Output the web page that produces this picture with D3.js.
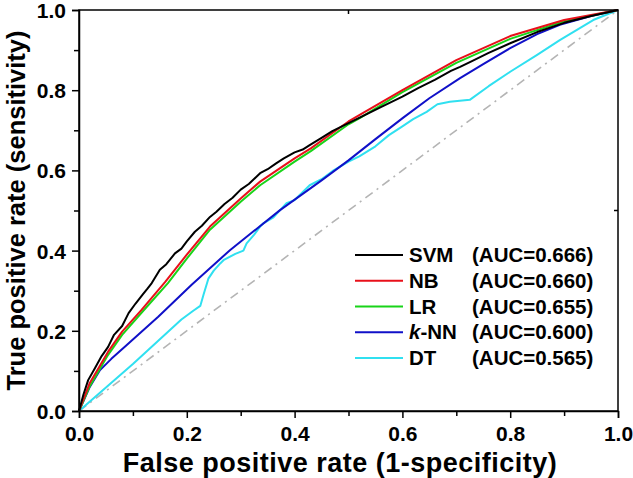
<!DOCTYPE html>
<html><head><meta charset="utf-8">
<script src="https://cdn.jsdelivr.net/npm/d3@7"></script>
<style>body{margin:0;background:#fff}svg{display:block}text{font-family:"Liberation Sans",Arial,sans-serif;font-weight:bold}</style>
</head><body>
<script>
const seriesNames = ["SVM","NB","LR","k-NN","DT"];
const aucLabels = ["(AUC=0.666)","(AUC=0.660)","(AUC=0.655)","(AUC=0.600)","(AUC=0.565)"];
const seriesColors = ["#000000","#e8101a","#19d419","#1010c8","#30e0f0"];
const xTicks = [0,0.2,0.4,0.6,0.8,1.0];
const yTicks = [0,0.2,0.4,0.6,0.8,1.0];
const svm = [[0,0],[0.008,0.04],[0.017,0.077],[0.03,0.108],[0.042,0.137],[0.054,0.16],[0.065,0.19],[0.08,0.212],[0.092,0.244],[0.105,0.268],[0.118,0.29],[0.127,0.305],[0.135,0.319],[0.15,0.352],[0.162,0.366],[0.178,0.393],[0.19,0.405],[0.2,0.423],[0.215,0.447],[0.228,0.462],[0.243,0.484],[0.255,0.497],[0.27,0.516],[0.285,0.532],[0.3,0.552],[0.315,0.566],[0.336,0.593],[0.35,0.603],[0.365,0.617],[0.38,0.63],[0.4,0.645],[0.415,0.652],[0.428,0.663],[0.45,0.681],[0.47,0.698],[0.5,0.718],[0.53,0.738],[0.56,0.758],[0.6,0.784],[0.63,0.806],[0.66,0.826],[0.69,0.848],[0.707,0.858],[0.73,0.873],[0.76,0.893],[0.8,0.917],[0.85,0.945],[0.9,0.968],[0.95,0.985],[1,1]];
const nb = [[0,0],[0.02,0.07],[0.054,0.148],[0.08,0.198],[0.116,0.252],[0.16,0.322],[0.2,0.39],[0.243,0.46],[0.3,0.53],[0.336,0.572],[0.4,0.63],[0.43,0.655],[0.5,0.722],[0.52,0.738],[0.6,0.8],[0.7,0.875],[0.8,0.935],[0.9,0.975],[1,1]];
const lr = [[0,0],[0.02,0.062],[0.054,0.14],[0.08,0.19],[0.116,0.245],[0.165,0.319],[0.2,0.38],[0.243,0.452],[0.3,0.522],[0.336,0.563],[0.4,0.622],[0.43,0.648],[0.5,0.715],[0.52,0.73],[0.6,0.795],[0.7,0.868],[0.8,0.928],[0.9,0.972],[1,1]];
const knn = [[0,0],[0.02,0.06],[0.039,0.102],[0.06,0.13],[0.085,0.16],[0.147,0.235],[0.209,0.315],[0.28,0.401],[0.373,0.501],[0.45,0.575],[0.5,0.625],[0.55,0.678],[0.601,0.731],[0.65,0.78],[0.707,0.83],[0.75,0.865],[0.8,0.905],[0.85,0.94],[0.892,0.963],[0.95,0.985],[1,1]];
const dt = [[0,0],[0.1,0.117],[0.19,0.228],[0.212,0.25],[0.225,0.262],[0.231,0.29],[0.24,0.33],[0.25,0.35],[0.262,0.368],[0.268,0.376],[0.29,0.392],[0.305,0.40],[0.311,0.418],[0.325,0.44],[0.336,0.46],[0.342,0.468],[0.36,0.482],[0.373,0.501],[0.385,0.518],[0.40,0.526],[0.428,0.563],[0.45,0.578],[0.47,0.598],[0.5,0.622],[0.52,0.635],[0.55,0.66],[0.575,0.688],[0.6,0.71],[0.62,0.728],[0.645,0.746],[0.665,0.765],[0.688,0.771],[0.725,0.776],[0.76,0.81],[0.8,0.846],[0.85,0.888],[0.892,0.925],[0.954,0.975],[1,1]];
const diag = [[0,0],[1,1]];
const allSeries = [svm, nb, lr, knn, dt];

const W = 633, H = 478;
const m = {l:79, r:15, t:10, b:67};
const svg = d3.select("body").append("svg").attr("width",W).attr("height",H);
const x = d3.scaleLinear().domain([0,1]).range([m.l, W-m.r]);
const y = d3.scaleLinear().domain([0,1]).range([H-m.b, m.t]);
const fs = 21, lfs = 20.5;

const line = d3.line().x(d=>x(d[0])).y(d=>y(d[1]));
svg.append("path").attr("d", line(diag)).attr("fill","none").attr("stroke","#b4b4b4")
  .attr("stroke-width",1.6).attr("stroke-dasharray","9,5,2,5");

const order = [4,3,2,1,0];
order.forEach(i=>{
  svg.append("path").attr("d", line(allSeries[i])).attr("fill","none")
    .attr("stroke", seriesColors[i]).attr("stroke-width",2).attr("stroke-linejoin","round");
});

svg.append("rect").attr("x",x(0)).attr("y",y(1)).attr("width",x(1)-x(0)).attr("height",y(0)-y(1))
  .attr("fill","none").attr("stroke","#000").attr("stroke-width",1.5);
svg.append("line").attr("x1",x(0.5)).attr("x2",x(0.5)).attr("y1",y(1)).attr("y2",y(1)+4).attr("stroke","#000").attr("stroke-width",1.5);
svg.append("line").attr("x1",x(1)).attr("x2",x(1)-4).attr("y1",y(0.5)).attr("y2",y(0.5)).attr("stroke","#000").attr("stroke-width",1.5);

const minor = d3.range(0.1,1,0.2);
svg.append("g").attr("transform",`translate(0,${y(0)})`)
  .call(d3.axisBottom(x).tickValues(xTicks).tickFormat(d3.format(".1f")).tickSize(7).tickPadding(8));
svg.append("g").attr("transform",`translate(0,${y(0)})`)
  .call(d3.axisBottom(x).tickValues(minor).tickFormat("").tickSize(5)).select(".domain").remove();
const ya = svg.append("g").attr("transform",`translate(${x(0)},0)`)
  .call(d3.axisLeft(y).tickValues(yTicks).tickFormat(d3.format(".1f")).tickSize(7).tickPadding(6));
svg.append("g").attr("transform",`translate(${x(0)},0)`)
  .call(d3.axisLeft(y).tickValues(minor).tickFormat("").tickSize(5)).select(".domain").remove();
svg.selectAll(".domain").attr("stroke-width",1.5);
svg.selectAll(".tick line").attr("stroke-width",1.5);
svg.selectAll(".tick text").attr("font-size",fs).attr("font-family","Liberation Sans, Arial").attr("font-weight","bold").attr("fill","#000");
ya.selectAll(".tick text").attr("dy","0.36em");

svg.append("text").attr("x",340).attr("y",472).attr("text-anchor","middle")
  .attr("font-size",27).attr("letter-spacing",0.5).text("False positive rate (1-specificity)");
svg.append("text").attr("transform",`translate(25,${(y(0)+y(1))/2}) rotate(-90)`).attr("text-anchor","middle")
  .attr("font-size",25.5).text("True positive rate (sensitivity)");

const legY = d3.scaleLinear().domain([0,4]).range([255,358]);
seriesNames.forEach((n,i)=>{
  const cy = legY(i);
  svg.append("line").attr("x1",355).attr("x2",403).attr("y1",cy).attr("y2",cy).attr("stroke",seriesColors[i]).attr("stroke-width",2);
  const t = svg.append("text").attr("x",409).attr("y",cy+7).attr("font-size",lfs);
  if(n.startsWith("k-")){
    t.append("tspan").attr("font-style","italic").text("k");
    t.append("tspan").text(n.slice(1));
  } else t.text(n);
  svg.append("text").attr("x",472).attr("y",cy+7).attr("font-size",lfs).text(aucLabels[i]);
});
</script>
</body></html>
